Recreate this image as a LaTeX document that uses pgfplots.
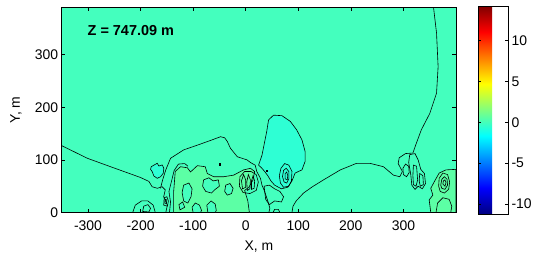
\documentclass[border=0pt]{standalone}
\usepackage{fontspec}
\setmainfont{Liberation Sans}
\usepackage{pgfplots}
\pgfplotsset{compat=1.18}
\definecolor{bgc}{RGB}{68,255,190}
\definecolor{cyc}{RGB}{46,255,212}
\definecolor{lgc}{RGB}{92,255,165}
\begin{document}
\begin{tikzpicture}
\path[use as bounding box] (-61.7bp,-50.5bp) rectangle (476.3bp,212.5bp);
\begin{axis}[
  scale only axis,
  width=394.3bp, height=205.2bp,
  xmin=-350, xmax=400, ymin=0, ymax=390,
  xtick={-300,-200,-100,0,100,200,300},
  ytick={0,100,200,300},
  tick align=inside, xtick pos=both, ytick pos=both,
  major tick length=3.5bp,
  tick style={black, line width=0.5bp},
  axis line style={black, line width=0.8bp},
  axis background/.style={fill=bgc},
  /pgf/number format/assume math mode=true,
  ticklabel style={font=\fontsize{14}{16}\selectfont},
  xticklabel style={yshift=-4.5bp},
  xlabel={X, m}, ylabel={Y, m},
  label style={font=\fontsize{14}{16}\selectfont},
  xlabel style={at={(axis description cs:0.5,-0.1667)}, anchor=center},
  ylabel style={at={(axis description cs:-0.1159,0.5)}, anchor=center},
  colorbar,
  colormap/jet,
  point meta min=-11.2, point meta max=14.2,
  colorbar style={
    scale only axis,
    at={(parent axis.north east)}, anchor=north west,
    xshift=13.5bp, yshift=1.3bp,
    width=30bp, height=208bp,
    ytick={-10,-5,0,5,10},
    tick align=inside, major tick length=3bp,
    tick style={black, line width=0.5bp},
    axis line style={black, line width=0.8bp},
    /pgf/number format/assume math mode=true,
    yticklabel style={font=\fontsize{14}{16}\selectfont},
  },
  every axis plot/.append style={line width=0.6bp},
]
% lighter region (lower centre)
\addplot[fill=lgc, draw=black] coordinates {(-137,0) (-137,40) (-134,78) (-124,87) (-111,85) (-105,77) (-92,89) (-77,87) (-73,74) (-61,68) (-42,68) (-23,71) (-4,81) (9,84) (17,78) (14,62) (6,48) (-2,42) (4,22) (7,0)} -- cycle;
% lighter region (right edge)
\addplot[fill=lgc, draw=black] coordinates {(352,0) (349,24) (356,33) (352,46) (359,59) (368,75) (381,81) (400,82) (400,0)} -- cycle;
% cyan lobe
\addplot[fill=cyc, draw=black] coordinates {(30,85) (24.5,90) (31,109) (40,154) (43.5,176) (53,185) (69,184) (85,173) (97,157) (107,138) (113,116) (113,97) (107,81) (94,75) (88,60) (80,48) (68,45) (55,52) (48,60) (42,70) (36,78)} -- cycle;
% small cyan patch left
\addplot[fill=cyc, draw=black] coordinates {(-181,82) (-179.7,87) (-174.7,90) (-168.3,93.5) (-165.2,88.4) (-158.8,90.3) (-155.7,84) (-156.9,74.5) (-162,68) (-168.3,65) (-174.7,69.4) (-177.8,77.6)} -- cycle;
% holes in lighter region
\addplot[fill=bgc, draw=black] coordinates {(-82,50) (-80,62) (-70,66) (-62,60) (-52,62) (-50,50) (-58,44) (-65,37) (-76,40)} -- cycle;
\addplot[fill=bgc, draw=black] coordinates {(-121,38) (-118,52) (-108,56) (-102,45) (-104,30) (-110,18) (-118,22)} -- cycle;
\addplot[fill=bgc, draw=black] coordinates {(-100,0) (-102,10) (-96,18) (-88,14) (-84,4) (-86,0)} -- cycle;
\addplot[fill=bgc, draw=black] coordinates {(-40,40) (-38,52) (-30,55) (-24,46) (-27,36) (-35,33)} -- cycle;
\addplot[fill=bgc, draw=black] coordinates {(-125,5) (-127,15) (-120,20) (-116,10)} -- cycle;
\addplot[fill=bgc, draw=black] coordinates {(-72,0) (-74,14) (-66,22) (-58,16) (-56,4) (-58,0)} -- cycle;
% main contour lines
\addplot[black] coordinates {(-352,128) (-301,103) (-257,87) (-200,66.5) (-184,59) (-178,49) (-168,46) (-159,49) (-153,43) (-156,30) (-149,14) (-152,0)};
\addplot[black] coordinates {(-162,46) (-158,62) (-152,81) (-143,103) (-118,119) (-92,128) (-64,138) (-48,144) (-40,142) (-35,135) (-29,122) (-16,106) (2.5,100) (9,95) (18,90) (21,78) (28,65) (31,52) (36,40) (42,22) (46,8) (44,0)};
\addplot[black] coordinates {(88,0) (90,12) (96,22) (110,37) (127,49) (148,62) (180,81) (211,93.5) (236,93.5) (262,87) (281,71) (293,68) (298,78) (290,93) (292,104) (304,112) (318,113) (324,130) (334,157) (350,188) (363,227) (366,277) (363,341) (357,392)};
\addplot[black] coordinates {(-145,0) (-143,20) (-146,40) (-141,60) (-136,80) (-128,92) (-116,93) (-110,88)};
% rings in cyan lobe
\addplot[black] coordinates {(64,70) (67,84) (74,93) (82,90) (88,78) (87,60) (82,50) (72,48) (66,56)} -- cycle;
\addplot[black] coordinates {(70,68) (72,80) (77,84) (82,78) (82,64) (78,56) (73,58)} -- cycle;
\addplot[black] coordinates {(75,64) (75,74) (78,77) (80,70) (79,62)} -- cycle;
\addplot[black] coordinates {(35,50) (45,52) (55,45) (65,40) (72,30) (68,20) (55,22) (45,15) (38,25)} -- cycle;
% oscillating loops near x=0
\addplot[black] coordinates {(-12,50) (-11,68) (-2,78) (10,78) (20,72) (24,58) (20,42) (8,36) (-5,38)} -- cycle;
\addplot[black] coordinates {(-6,45) (-8,60) (-4,72) (0,62) (0,48)} -- cycle;
\addplot[black] coordinates {(3,42) (2,58) (5,72) (9,62) (8,45)} -- cycle;
\addplot[black] coordinates {(11,44) (11,60) (14,70) (17,60) (16,46)} -- cycle;
% right cluster
\addplot[black] coordinates {(300,72) (299,84) (304,92) (310,88) (311,76) (306,68)} -- cycle;
\addplot[black] coordinates {(312,110) (322,112) (328,100) (333,82) (340,74) (342,55) (336,45) (328,50) (322,44) (316,52) (314,72) (310,95)} -- cycle;
\addplot[black] coordinates {(319,90) (325,88) (327,62) (324,50) (319,53) (318,70)} -- cycle;
\addplot[black] coordinates {(331,74) (337,70) (338,53) (332,50) (330,60)} -- cycle;
\addplot[black] coordinates {(367,50) (368,65) (375,75) (384,72) (388,58) (386,44) (378,37) (370,40)} -- cycle;
\addplot[black] coordinates {(371,52) (373,63) (378,68) (383,63) (384,52) (379,44) (373,46)} -- cycle;
\addplot[black] coordinates {(375,54) (376,60) (379,62) (381,57) (379,50)} -- cycle;
\addplot[black] coordinates {(362,0) (365,18) (375,28) (387,25) (392,12) (390,0)};
% left bottom cluster
\addplot[black] coordinates {(-215,0) (-210,14) (-198,22) (-186,22) (-176,14) (-172,0)};
\addplot[black] coordinates {(-196,2) (-194,12) (-186,15) (-181,8) (-184,1)} -- cycle;
\addplot[black] coordinates {(-156,14) (-155,28) (-150,30) (-147,22) (-149,12)} -- cycle;
\addplot[black] coordinates {(-154,18) (-153,25) (-150,24) (-151,17)} -- cycle;
\addplot[black] coordinates {(52,0) (55,6) (62,6) (65,0)};
% tiny loops
\addplot[black] coordinates {(-51,90) (-51,93) (-49,93) (-49,90)} -- cycle;
\addplot[black] coordinates {(40,78) (40,81) (42,81) (42,78)} -- cycle;
\node[anchor=west, inner sep=0pt, font=\bfseries\fontsize{14.5}{16}\selectfont] at (axis description cs:0.0654,0.8845) {Z = 747.09 m};
\end{axis}
\end{tikzpicture}
\end{document}
